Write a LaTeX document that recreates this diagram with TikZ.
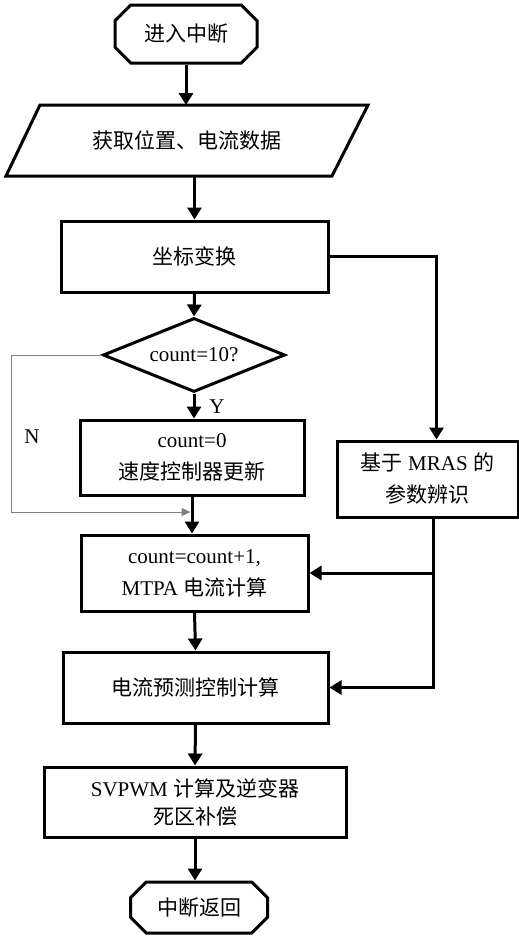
\documentclass[tikz,border=0pt]{standalone}
\usepackage{fontspec}
\setmainfont{Liberation Serif}
\newfontfamily\zh{Noto Sans CJK SC}
\usetikzlibrary{shapes.geometric,shapes.misc,arrows.meta}

\begin{document}
\begin{tikzpicture}[
		x=0.5pt, y=-0.5pt
		,every node/.append style={font=\fontsize{10.5}{16}\selectfont, align=center}
		,box/.style={draw, line width=1.5pt, rectangle, inner sep=0pt}
		,term/.style={draw, line width=1.5pt, chamfered rectangle, chamfered rectangle xsep=6pt, inner sep=0pt}
		,cond/.style={draw, line width=1.5pt, diamond, aspect=2.46, inner sep=0pt}
		,arr/.style={line width=1.5pt, -{Triangle[length=6pt,width=7pt]}}
		,back/.style={draw=gray, line width=0.5pt, -{Triangle[length=4.5pt,width=4pt]}}
	]
	\useasboundingbox (0,0) rectangle (519,937);

	\node [term, minimum width=71pt, minimum height=29pt] (start) at (186,34) {\zh 进入中断};
	% input block
	\draw [line width=1.5pt] (40,105) -- (368,105) -- (332,176) -- (6,176) -- cycle;
	\node [minimum height=35.5pt, outer sep=0pt] (get) at (187,140.5) {\zh 获取位置、电流数据};
	\node [box, minimum width=133.5pt, minimum height=35.5pt] (coord) at (194.5,256.5) {\zh 坐标变换};
	\node [cond, minimum width=91pt, minimum height=37pt] (chk) at (194,355) {count=10?};
	\node [box, minimum width=112pt, minimum height=37.5pt] (cnt0) at (192,457.5) {count=0\\{\zh 速度控制器更新}};
	\node [box, minimum width=90.5pt, minimum height=38pt] (mras) at (427.5,479) {{\zh 基于} MRAS {\zh 的}\\{\zh 参数辨识}};
	\node [box, minimum width=113.5pt, minimum height=38pt] (cnt1) at (194.5,573) {count=count+1,\\MTPA {\zh 电流计算}};
	\node [box, minimum width=132.5pt, minimum height=35.5pt] (pred) at (195.5,687.5) {\zh 电流预测控制计算};
	\node [box, minimum width=151pt, minimum height=35pt] (svpwm) at (195,802) {SVPWM {\zh 计算及逆变器}\\[-2pt]{\zh 死区补偿}};
	\node [term, minimum width=68.5pt, minimum height=25.5pt] (ret) at (199,907.5) {\zh 中断返回};

	\node (ylab) at (217,407) {Y};
	\node (nlab) at (32,437) {N};

	\draw [arr] (start.south) -- (start.south |- get.north);
	\draw [arr] (coord.north |- get.south) -- (coord.north);
	\draw [arr] (coord.south) -- (chk.north);
	\draw [arr] (chk.south) -- (chk.south |- cnt0.north);
	\draw [arr] (cnt0.south) -- (cnt0.south |- cnt1.north);
	\draw [arr] (cnt1.south) -- (pred.north);
	\draw [arr] (pred.south) -- (svpwm.north);
	\draw [arr] (svpwm.south) -- (svpwm.south |- ret.north);

	% N branch
	\coordinate (join) at (190.5,512);
	\draw [back] (chk.west) -- ++(-90,0) |- (join);

	% MRAS branch
	\draw [arr] (coord.east) -| ([xshift=4.5pt]mras.north);
	\coordinate (mrasout) at ([xshift=2.75pt]mras.south);
	\draw [arr] (mrasout) |- (cnt1.east);
	\draw [arr] (mrasout) |- (pred.east);
\end{tikzpicture}
\end{document}
